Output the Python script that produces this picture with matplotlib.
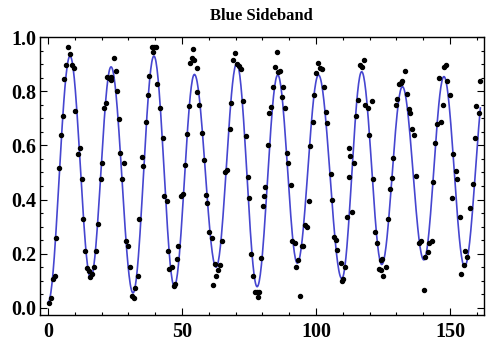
import numpy as np
import matplotlib
matplotlib.use("Agg")
import matplotlib.pyplot as plt
from matplotlib.ticker import MultipleLocator

t_data = [0.5, 1.1, 2.0, 2.6, 3.1, 4.1, 4.7, 5.5, 6.0, 6.6, 7.6, 8.2, 9.1, 9.6, 10.2,
          11.1, 11.8, 12.6, 13.1, 13.6, 14.6, 15.2, 15.8, 16.5, 17.3, 17.9, 18.5, 19.6,
          20.0, 21.0, 21.5, 22.1, 22.7, 23.3, 23.6, 24.6, 25.3, 25.9, 26.5, 26.9, 27.7,
          28.5, 29.1, 30.0, 30.5, 31.5, 32.1, 32.6, 33.5, 34.1, 35.0, 35.4, 36.6, 37.2,
          37.8, 38.7, 39.0, 39.4, 40.2, 40.7, 41.9, 42.8, 43.4, 44.3, 44.7, 45.3, 46.2,
          46.9, 47.4, 48.0, 48.6, 49.5, 50.2, 51.1, 51.7, 52.4, 52.9, 53.6, 54.0, 54.6,
          55.5, 55.7, 56.5, 57.6, 58.0, 58.8, 59.4, 60.2, 61.1, 61.4, 62.1, 62.7, 63.4,
          64.3, 65.0, 65.9, 66.6, 67.8, 68.1, 69.1, 69.9, 70.5, 71.1, 71.8, 72.9, 73.7,
          74.6, 75.1, 75.8, 76.5, 77.2, 77.9, 78.4, 78.6, 79.4, 80.1, 80.6, 81.0, 81.9,
          82.5, 83.2, 83.8, 84.7, 85.4, 85.9, 86.6, 87.2, 87.6, 88.4, 89.1, 89.7, 90.6,
          91.0, 92.0, 92.4, 93.4, 93.9, 94.7, 95.3, 95.9, 96.6, 97.2, 97.9, 98.8, 99.2,
          99.9, 100.6, 101.4, 102.1, 102.9, 103.7, 104.1, 105.4, 105.9, 106.7, 107.4,
          107.8, 109.2, 109.6, 110.2, 110.8, 111.4, 112.1, 112.4, 112.7, 113.3, 114.2,
          114.8, 115.8, 116.2, 117.0, 117.7, 118.3, 119.2, 119.9, 120.8, 121.4, 121.8,
          122.6, 123.4, 124.1, 124.4, 124.7, 125.1, 126.1, 127.0, 127.6, 128.2, 128.8,
          129.7, 130.3, 131.1, 131.6, 132.1, 133.3, 133.8, 134.5, 135.1, 135.7, 136.6,
          137.3, 138.3, 139.3, 140.2, 140.8, 141.7, 142.3, 143.1, 143.7, 144.3, 145.2,
          145.8, 146.6, 147.2, 147.8, 148.4, 149.0, 150.1, 150.7, 151.1, 152.1, 152.4,
          153.6, 154.2, 155.1, 155.7, 156.2, 157.6, 158.5, 159.2, 159.8, 160.6, 161.1]
p_data = [0.017, 0.038, 0.106, 0.116, 0.257, 0.515, 0.638, 0.708, 0.845, 0.897, 0.964,
          0.936, 0.897, 0.887, 0.728, 0.568, 0.589, 0.475, 0.327, 0.211, 0.146, 0.137,
          0.113, 0.125, 0.149, 0.211, 0.309, 0.475, 0.536, 0.737, 0.758, 0.853, 0.850,
          0.853, 0.841, 0.924, 0.876, 0.800, 0.696, 0.571, 0.476, 0.534, 0.248, 0.228,
          0.150, 0.045, 0.036, 0.075, 0.116, 0.327, 0.556, 0.525, 0.687, 0.786, 0.856,
          0.964, 0.943, 0.964, 0.964, 0.827, 0.737, 0.628, 0.414, 0.396, 0.211, 0.143,
          0.152, 0.080, 0.088, 0.180, 0.228, 0.414, 0.420, 0.527, 0.641, 0.745, 0.905,
          0.921, 0.955, 0.915, 0.884, 0.796, 0.749, 0.647, 0.546, 0.416, 0.388, 0.279,
          0.257, 0.085, 0.161, 0.116, 0.140, 0.158, 0.248, 0.500, 0.510, 0.660, 0.758,
          0.915, 0.942, 0.899, 0.894, 0.881, 0.764, 0.635, 0.485, 0.407, 0.199, 0.116,
          0.059, 0.059, 0.039, 0.059, 0.184, 0.376, 0.413, 0.447, 0.601, 0.718, 0.740,
          0.817, 0.888, 0.943, 0.872, 0.876, 0.780, 0.814, 0.737, 0.570, 0.536, 0.454,
          0.248, 0.238, 0.150, 0.177, 0.045, 0.228, 0.228, 0.306, 0.300, 0.396, 0.597,
          0.687, 0.786, 0.868, 0.905, 0.884, 0.881, 0.817, 0.725, 0.682, 0.496, 0.400,
          0.263, 0.250, 0.215, 0.164, 0.100, 0.107, 0.150, 0.336, 0.485, 0.589, 0.559,
          0.355, 0.536, 0.708, 0.767, 0.897, 0.890, 0.915, 0.749, 0.737, 0.638, 0.762,
          0.475, 0.279, 0.238, 0.143, 0.175, 0.140, 0.180, 0.116, 0.150, 0.327, 0.438,
          0.480, 0.554, 0.749, 0.773, 0.827, 0.832, 0.836, 0.876, 0.790, 0.733, 0.718,
          0.660, 0.638, 0.488, 0.238, 0.248, 0.066, 0.189, 0.207, 0.238, 0.248, 0.466,
          0.610, 0.679, 0.847, 0.687, 0.749, 0.888, 0.897, 0.836, 0.786, 0.406, 0.568,
          0.505, 0.475, 0.336, 0.124, 0.158, 0.209, 0.189, 0.367, 0.457, 0.627, 0.745,
          0.720, 0.836]

# turning points of the fitted curve
t_turn = [0.0, 8.2, 15.9, 23.5, 31.7, 39.5, 47.1, 54.6, 62.7, 70.4, 78.0, 85.7,
          93.0, 100.9, 109.6, 117.0, 124.5, 132.2, 140.2, 147.7, 155.4, 163.6]
p_turn = [0.02, 0.93, 0.11, 0.89, 0.055, 0.93, 0.08, 0.862, 0.15, 0.903, 0.078, 0.86,
          0.165, 0.86, 0.108, 0.872, 0.16, 0.817, 0.177, 0.854, 0.152, 0.87]
t_end = 161.3

# half-cosine arcs between turning points give the smooth fit line
t_fit, p_fit = [], []
for i in range(len(t_turn) - 1):
    s = np.linspace(0, 1, 40)
    tt = t_turn[i] + (t_turn[i + 1] - t_turn[i]) * s
    pp = p_turn[i] + (p_turn[i + 1] - p_turn[i]) * (1 - np.cos(np.pi * s)) / 2
    keep = tt <= t_end
    t_fit.extend(tt[keep])
    p_fit.extend(pp[keep])

plt.rcParams['font.family'] = ['Liberation Serif', 'DejaVu Serif']
plt.rcParams['font.weight'] = 'bold'

fig = plt.figure(figsize=(4.88, 3.43), dpi=100)
ax = fig.add_axes([0.082, 0.082, 0.909, 0.810])

ax.plot(t_fit, p_fit, color='#4646d0', lw=1.2, zorder=2)
ax.plot(t_data, p_data, 'o', color='black', ms=2.9, zorder=3)

ax.set_xlim(-3, 162.5)
ax.set_ylim(-0.026, 1.0)
ax.xaxis.set_major_locator(MultipleLocator(50))
ax.xaxis.set_minor_locator(MultipleLocator(10))
ax.yaxis.set_major_locator(MultipleLocator(0.2))
ax.yaxis.set_minor_locator(MultipleLocator(0.05))
ax.yaxis.set_major_formatter(plt.FormatStrFormatter('%.1f'))

ax.tick_params(which='both', direction='in', top=True, right=True, width=0.8)
ax.tick_params(which='major', length=5)
ax.tick_params(which='minor', length=2.5)
ax.tick_params(axis='x', labelsize=14.5, pad=5)
ax.tick_params(axis='y', labelsize=14.5, pad=2.5)
for s in ax.spines.values():
    s.set_linewidth(1.0)

ax.set_title("Blue Sideband", fontsize=12, fontweight='bold', pad=12)

fig.savefig("out.png", dpi=100)
